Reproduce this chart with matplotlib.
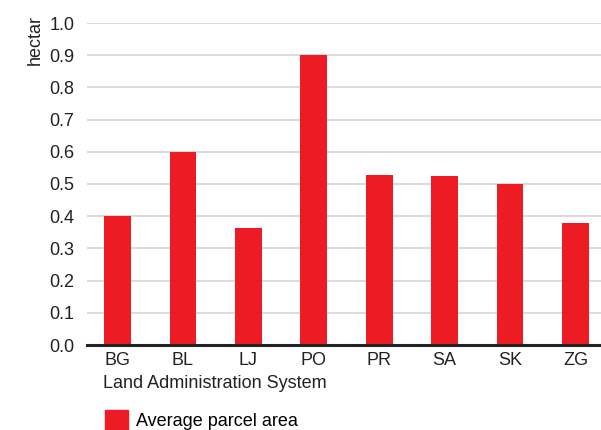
import matplotlib
matplotlib.use("Agg")
import matplotlib.pyplot as plt
from matplotlib.patches import Patch

# average parcel area per land administration system, in hectar
systems = ["BG", "BL", "LJ", "PO", "PR", "SA", "SK", "ZG"]
avg_area = [0.40, 0.60, 0.363, 0.90, 0.528, 0.525, 0.50, 0.379]
yticks = [0.0, 0.1, 0.2, 0.3, 0.4, 0.5, 0.6, 0.7, 0.8, 0.9, 1.0]

RED = "#ed1c24"

plt.rcParams["font.family"] = ["Liberation Sans", "DejaVu Sans"]

W, H = 601, 430
fig = plt.figure(figsize=(W / 100, H / 100), dpi=100)
ax = fig.add_axes([87 / W, (H - 345) / H, (W - 87) / W, 322 / H])

x = range(len(systems))
ax.bar(x, avg_area, width=0.41, color=RED, zorder=2)

ax.set_xlim(-0.466, 7.39)
ax.set_ylim(0, 1.0)
ax.set_yticks(yticks)
ax.set_yticklabels([f"{v:.1f}" for v in yticks])
ax.set_xticks(list(x))
ax.set_xticklabels(systems)
ax.tick_params(length=0, labelsize=13, colors="#222222", pad=9)
ax.tick_params(axis="x", pad=5)

ax.grid(axis="y", color="#d4d4d4", linewidth=1.2, zorder=0)
for s in ["top", "right", "left"]:
    ax.spines[s].set_visible(False)
ax.spines["bottom"].set_linewidth(2.2)
ax.spines["bottom"].set_color("#222222")
ax.spines["bottom"].set_zorder(3)

fig.text(103 / W, 1 - 383 / H, "Land Administration System", fontsize=13,
         color="#222222", va="center", ha="left")
fig.text(35 / W, 1 - 40 / H, "hectar", fontsize=13, rotation=90,
         color="#222222", va="center", ha="center")

fig.legend(handles=[Patch(color=RED, label="Average parcel area")],
           loc="center left", bbox_to_anchor=(105 / W, 1 - 420 / H),
           frameon=False, fontsize=13, handlelength=1.3, handleheight=1.4,
           handletextpad=0.4, borderpad=0, borderaxespad=0)

fig.savefig("out.png", dpi=100)
